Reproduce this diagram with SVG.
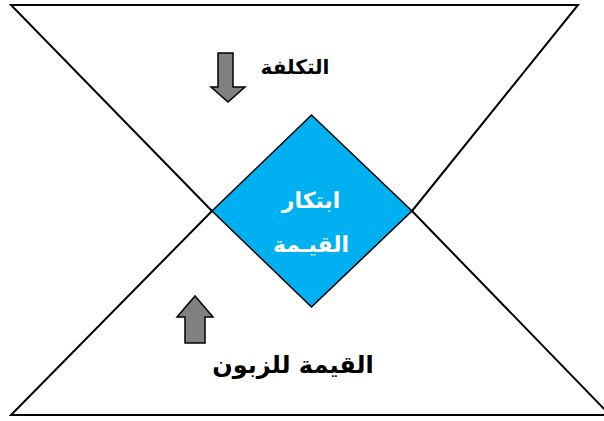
<svg xmlns="http://www.w3.org/2000/svg" width="604" height="421" viewBox="0 0 604 421">
<style>
.frame{fill:none;stroke:#000;stroke-width:2;stroke-linejoin:miter}
.arrow{fill:#808080;stroke:#000;stroke-width:1.5}
.lbl{font-family:"DejaVu Sans","Liberation Sans",sans-serif;font-weight:bold;fill:#000;text-anchor:middle}
.in{font-family:"DejaVu Sans","Liberation Sans",sans-serif;font-weight:bold;fill:#fff;text-anchor:middle;font-size:22px}
</style>
<rect width="604" height="421" fill="#fff"/>
<g id="connectors">
<polyline class="frame" points="212,211 11,5 578,5 412,211"/>
<polyline class="frame" points="212,211 11,415 610,415 412,211"/>
</g>
<g id="diamond">
<polygon points="311.5,115 412,211 311.5,307 212,211" fill="#00B0F0" stroke="#000" stroke-width="1.5"/>
<text class="in" x="311" y="208">ابتكار</text>
<text class="in" x="311" y="252">القيـمة</text>
</g>
<g id="cost">
<polygon class="arrow" points="218,53 233,53 233,87 245,87 228,102 211,87 218,87"/>
<text class="lbl" x="295" y="74" font-size="20">التكلفة</text>
</g>
<g id="value">
<polygon class="arrow" points="185,343 205,343 205,317 213,317 195,296 177,317 185,317"/>
<text class="lbl" x="293" y="373" font-size="24">القيمة للزبون</text>
</g>
</svg>
